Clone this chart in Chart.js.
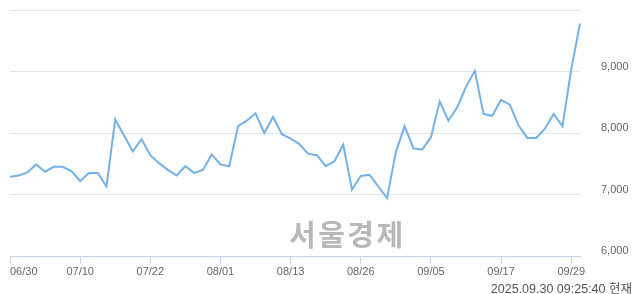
<!DOCTYPE html>
<html>
<head>
<meta charset="utf-8">
<script src="https://cdn.jsdelivr.net/npm/chart.js@4"></script>
<style>
  html, body { margin: 0; padding: 0; background: #fff; }
  #wrap { position: relative; width: 640px; height: 294px; }
  #chart { position: absolute; left: 0; top: 0; }
  .mark {
    position: absolute; left: 289px; top: 212px;
    font: bold 29px "Noto Sans CJK KR", sans-serif; color: #b8b8b8;
    letter-spacing: 2.5px;
  }
  .stamp {
    position: absolute; right: 8px; top: 278px;
    font: 12.5px "Liberation Sans", "Noto Sans CJK KR", sans-serif; color: #555;
  }
</style>
</head>
<body>
<div id="wrap">
  <canvas id="chart" width="640" height="294"></canvas>
  <div class="mark">서울경제</div>
  <div class="stamp">2025.09.30 09:25:40 현재</div>
</div>
<script>
// trading days, 06/30 .. 09/30
const dates = [
  '06/30','07/01','07/02','07/03','07/04','07/07','07/08','07/09',
  '07/10','07/11','07/14','07/15','07/16','07/17','07/18','07/21',
  '07/22','07/23','07/24','07/25','07/28','07/29','07/30','07/31',
  '08/01','08/04','08/05','08/06','08/07','08/08','08/11','08/12',
  '08/13','08/14','08/18','08/19','08/20','08/21','08/22','08/25',
  '08/26','08/27','08/28','08/29','09/01','09/02','09/03','09/04',
  '09/05','09/08','09/09','09/10','09/11','09/12','09/15','09/16',
  '09/17','09/18','09/19','09/22','09/23','09/24','09/25','09/26',
  '09/29','09/30'
];
const prices = [
  7290, 7310, 7360, 7490, 7370, 7450, 7450, 7380,
  7220, 7350, 7350, 7130, 8220, 7960, 7700, 7900,
  7640, 7510, 7400, 7310, 7460, 7350, 7400, 7650,
  7490, 7460, 8110, 8200, 8320, 8000, 8260, 7980,
  7910, 7820, 7660, 7640, 7460, 7540, 7810, 7080,
  7300, 7320, 7130, 6940, 7690, 8110, 7750, 7730,
  7930, 8510, 8200, 8420, 8750, 9010, 8310, 8280,
  8540, 8460, 8120, 7920, 7920, 8070, 8310, 8110,
  9030, 9780
];
const xTickDates = ['06/30','07/10','07/22','08/01','08/13','08/26','09/05','09/17','09/29'];
const yMin = 6000;
const yMax = 10000;
const yStep = 1000;

const ctx = document.getElementById('chart').getContext('2d');
new Chart(ctx, {
  type: 'line',
  data: {
    labels: dates,
    datasets: [{
      data: prices,
      borderColor: '#72b2ea',
      borderWidth: 2,
      pointRadius: 0,
      tension: 0,
      fill: false
    }]
  },
  options: {
    responsive: false,
    animation: false,
    layout: { padding: { top: 10, left: 10, right: 0, bottom: 0 } },
    plugins: { legend: { display: false }, tooltip: { enabled: false } },
    scales: {
      x: {
        offset: false,
        border: { color: '#c6d3ec', width: 1 },
        grid: {
          drawOnChartArea: false,
          drawTicks: true,
          tickLength: 8,
          color: c => xTickDates.includes(dates[c.index]) ? '#c6d3ec' : 'rgba(0,0,0,0)'
        },
        ticks: {
          autoSkip: false,
          maxRotation: 0,
          align: 'inner',
          padding: 1,
          color: '#666',
          font: { family: 'Liberation Sans', size: 11 },
          callback: (v, i) => xTickDates.includes(dates[i]) ? dates[i] : ''
        },
        afterFit: s => { s.height = 38; }
      },
      y: {
        position: 'right',
        min: yMin,
        max: yMax,
        border: { display: false },
        grid: { color: '#e3e3e3', drawTicks: false },
        ticks: {
          stepSize: yStep,
          padding: 21,
          labelOffset: -5,
          color: '#666',
          font: { family: 'Liberation Sans', size: 11 },
          callback: v => v === yMax ? '' : v.toLocaleString('en-US')
        },
        afterFit: s => { s.width = 60; s.paddingTop = 0; s.paddingBottom = 0; }
      }
    }
  }
});
</script>
</body>
</html>
